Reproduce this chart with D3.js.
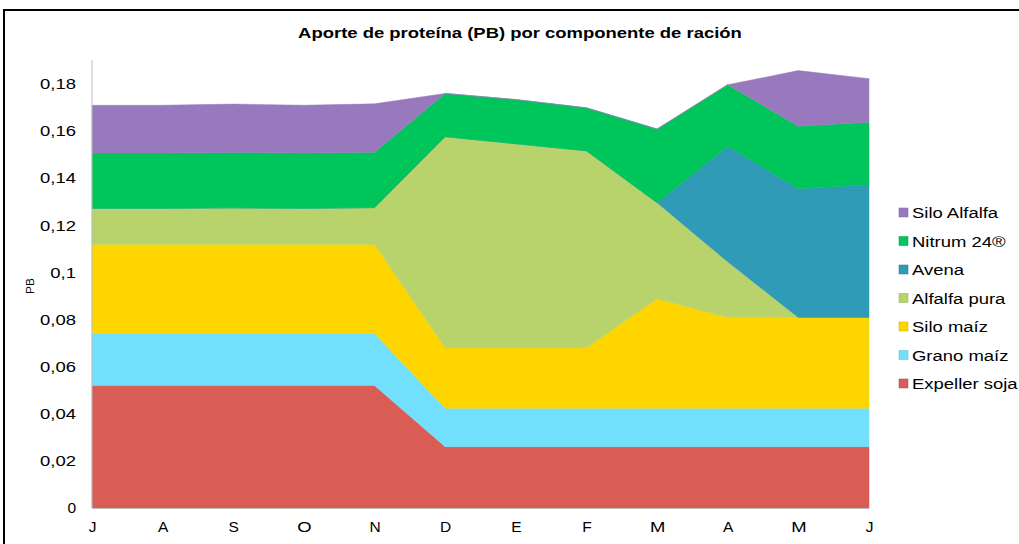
<!DOCTYPE html>
<html>
<head>
<meta charset="utf-8">
<script src="https://cdn.jsdelivr.net/npm/d3@7"></script>
<style>
  body { margin: 0; background: #fff; }
  svg { display: block; font-family: "Liberation Sans", Arial, sans-serif; }
</style>
</head>
<body>
<svg id="chart" width="1019" height="544"></svg>
<script>
// ---- data ----
const months = ["J", "A", "S", "O", "N", "D", "E", "F", "M", "A", "M", "J"];

const expellerSoja = [0.052, 0.052, 0.052, 0.052, 0.052, 0.026, 0.026, 0.026, 0.026, 0.026, 0.026, 0.026];
const granoMaiz    = [0.022, 0.022, 0.022, 0.022, 0.022, 0.0163, 0.0163, 0.0163, 0.0163, 0.0163, 0.0163, 0.0163];
const siloMaiz     = [0.0378, 0.0378, 0.0378, 0.0378, 0.0378, 0.0257, 0.0257, 0.0257, 0.0464, 0.0385, 0.0385, 0.0385];
const alfalfaPura  = [0.0153, 0.0153, 0.0155, 0.0153, 0.0156, 0.0895, 0.0865, 0.0835, 0.0408, 0.0236, 0, 0];
const avena        = [0, 0, 0, 0, 0, 0, 0, 0, 0, 0.049, 0.0546, 0.0563];
const nitrum       = [0.0235, 0.0235, 0.0235, 0.0235, 0.0235, 0.0183, 0.0187, 0.0182, 0.0312, 0.0261, 0.0265, 0.0265];
const siloAlfalfa  = [0.0202, 0.0202, 0.0205, 0.0202, 0.0205, 0, 0, 0, 0, 0, 0.0236, 0.0185];

const yTicks = [0, 0.02, 0.04, 0.06, 0.08, 0.1, 0.12, 0.14, 0.16, 0.18];

// bottom -> top stacking order
const SERIES = [
  { key: "Expeller soja", values: expellerSoja, color: "#d95d55" },
  { key: "Grano maíz",    values: granoMaiz,    color: "#72dffd" },
  { key: "Silo maíz",     values: siloMaiz,     color: "#ffd500" },
  { key: "Alfalfa pura",  values: alfalfaPura,  color: "#b8d36b" },
  { key: "Avena",         values: avena,        color: "#2f9bb6" },
  { key: "Nitrum 24®",    values: nitrum,       color: "#00c55a" },
  { key: "Silo Alfalfa",  values: siloAlfalfa,  color: "#9979be" }
];

// the reference text is drawn a bit wider than the font's natural width
const TEXT_STRETCH = 1.19;

// ---- layout ----
const svg = d3.select("#chart");
const margin = { top: 60, left: 92, right: 150, bottom: 36 };

// outer frame
svg.append("rect")
  .attr("x", 4).attr("y", 10)
  .attr("width", 1040).attr("height", 600)
  .attr("fill", "none")
  .attr("stroke", "#000")
  .attr("stroke-width", 2);

svg.append("text")
  .attr("x", 520).attr("y", 38)
  .attr("text-anchor", "middle")
  .attr("font-size", 15.5)
  .attr("font-weight", "bold")
  .text("Aporte de proteína (PB) por componente de ración");

// table built from the arrays
const rows = months.map((m, i) => {
  const r = { idx: i, month: m };
  SERIES.forEach(s => { r[s.key] = s.values[i]; });
  return r;
});

const x = d3.scalePoint()
  .domain(d3.range(months.length))
  .range([margin.left, 869]);

const y = d3.scaleLinear()
  .domain([0, 0.19])
  .range([508, margin.top]);

const stack = d3.stack().keys(SERIES.map(s => s.key));
const layers = stack(rows);

const area = d3.area()
  .x(d => x(d.data.idx))
  .y0(d => y(d[0]))
  .y1(d => y(d[1]));

const g = svg.append("g");
g.selectAll("path.layer")
  .data(layers)
  .join("path")
  .attr("class", "layer")
  .attr("d", area)
  .attr("fill", (d, i) => SERIES[i].color)
  .attr("stroke", (d, i) => SERIES[i].color)
  .attr("stroke-width", 0.5);

// axes
const yAxis = svg.append("g")
  .attr("transform", `translate(${margin.left},0)`)
  .call(d3.axisLeft(y).tickValues(yTicks).tickSize(0).tickPadding(16)
    .tickFormat(d => String(d).replace(".", ",")));
yAxis.select(".domain").attr("stroke", "#bdbdbd").attr("d", `M0,${y(0.19)}V${y(0)}`);
yAxis.selectAll("text").attr("font-size", 15.5).attr("fill", "#000")
  .attr("font-family", "'Liberation Sans', Arial, sans-serif");

const xAxis = svg.append("g")
  .attr("transform", `translate(0,${y(0)})`)
  .call(d3.axisBottom(x).tickSize(0).tickPadding(13).tickFormat(i => months[i]));
xAxis.select(".domain").attr("stroke", "#bdbdbd");
xAxis.selectAll("text").attr("font-size", 15.5).attr("fill", "#000")
  .attr("font-family", "'Liberation Sans', Arial, sans-serif");

svg.append("text")
  .attr("transform", "translate(34,286) rotate(-90)")
  .attr("text-anchor", "middle")
  .attr("font-size", 10)
  .text("PB");

// legend (top -> bottom is reverse of stack)
const legendData = SERIES.slice().reverse();
const legend = svg.append("g").attr("transform", "translate(899,213)");
const item = legend.selectAll("g")
  .data(legendData)
  .join("g")
  .attr("transform", (d, i) => `translate(0,${i * 28.5})`);
item.append("rect")
  .attr("x", 0).attr("y", -5)
  .attr("width", 9).attr("height", 9)
  .attr("fill", d => d.color)
  .attr("stroke", d => d3.color(d.color).darker(0.6))
  .attr("stroke-width", 0.5);
item.append("text")
  .attr("x", 13).attr("y", 5)
  .attr("font-size", 15.5)
  .text(d => d.key);

// widen every label to match the reference's proportions
svg.selectAll("text").each(function () {
  const len = this.getComputedTextLength();
  if (len > 12) {
    d3.select(this)
      .attr("textLength", len * TEXT_STRETCH)
      .attr("lengthAdjust", "spacingAndGlyphs");
  }
});
</script>
</body>
</html>
